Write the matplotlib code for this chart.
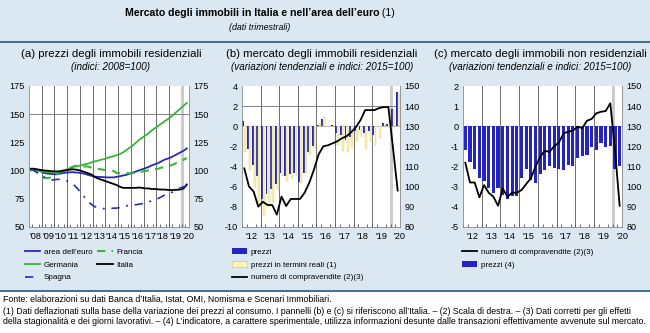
import matplotlib
matplotlib.use("Agg")
import matplotlib.pyplot as plt
from matplotlib.lines import Line2D
from matplotlib.patches import Patch, Rectangle
from matplotlib.ticker import FixedLocator

plt.rcParams['font.family'] = ['Liberation Sans Narrow', 'Liberation Sans', 'DejaVu Sans']
plt.rcParams['axes.unicode_minus'] = False

# ---------------- data ----------------
# panel (a): quarterly 2008Q1-2020Q2, indices 2008=100
year_ticks_a = list(range(2008, 2021))
year_labels_a = ["'08", "'09", "'10", "'11", "'12", "'13", "'14", "'15", "'16", "'17", "'18", "'19", "'20"]
euro = [101, 101, 100.5, 99.5, 98, 97.3, 97, 96.7, 96.5, 97, 97.5, 98, 98.2, 98.5, 98.2, 98,
        97.5, 97, 96, 95.3, 94.5, 94.3, 94.2, 94, 93.8, 93.8, 93.8, 94.3, 94.8, 95.5, 96, 97,
        98, 99, 100, 101, 102, 103, 104.5, 105.5, 106.5, 108, 109.5, 110.5, 111.5, 113, 114.5, 116,
        117.5, 119.5]
germania = [100, 100.5, 100, 99.5, 99, 98.5, 98.5, 98.8, 99, 99.5, 100, 100.5, 101.5, 102.5, 103.5, 104,
            104.5, 105.5, 106, 107, 108, 108.5, 109.5, 110, 111, 112, 112.5, 113.5, 114.5, 116, 118, 120,
            122, 124.5, 127, 129, 131, 133, 135.5, 137.5, 139.5, 141.5, 143.5, 145.5, 147.5, 150, 152.5, 155,
            157.5, 160]
francia = [101, 100.5, 99, 97, 94.5, 93, 93.5, 95, 96.5, 98, 99.5, 101, 102, 103, 104, 104,
           104, 103.5, 103.5, 102.5, 102, 101.5, 101, 100.5, 100.5, 100, 99.5, 97.8, 97.5, 97.5, 97.5, 97.5,
           97.5, 98, 98.5, 99, 99.5, 100, 100.5, 101, 101.5, 102.5, 103, 103.5, 104.5, 105.5, 107, 108,
           109.5, 111]
italia = [101.5, 101.5, 101, 100.5, 100, 99.8, 99.5, 99.2, 99, 99, 99.5, 100, 100.5, 101, 100.8, 100.3,
          99.5, 98.5, 97.5, 96.5, 94.5, 93, 92, 91, 90, 89, 88, 87, 85.5, 84.5, 84.5, 84.5,
          84.5, 84.5, 84.8, 84.5, 84, 84, 83.5, 83.5, 83.2, 83, 83, 82.7, 82.5, 82.7, 82.8, 83,
          84, 87.5]
spagna = [101, 100, 98, 96, 94, 92.5, 92, 91.5, 92, 92, 91.5, 91, 90, 88.5, 86, 83,
          79.5, 76, 72.5, 70, 68, 67, 66.5, 66, 66, 66, 66.5, 66.5, 67, 68, 68.5, 69,
          69, 69.5, 70, 70.5, 71, 72, 73, 74, 75, 76.5, 78, 79, 80, 81.5, 83, 84.5,
          85.5, 86]

# panels (b) and (c): quarterly 2012Q1-2020Q2
year_ticks_bc = list(range(2012, 2021))
year_labels_bc = ["'12", "'13", "'14", "'15", "'16", "'17", "'18", "'19", "'20"]
prezzi_b = [0.55, -2.3, -3.9, -5.0, -7.2, -6.7, -6.2, -5.8, -4.7, -5.0, -4.8, -4.7, -5.6, -4.7, -2.6, -2.0,
            0.1, 0.7, 0.0, 0.15, -0.7, -0.9, -1.4, -1.1, -0.5, -0.4, -0.7, -0.5, -0.9, 0.05, 0.35, 0.2,
            1.7, 3.4]
reali_b = [-2.6, -4.4, -6.0, -8.0, -8.8, -8.0, -7.5, -6.3, -5.0, -5.5, -5.2, -5.0, -5.7, -4.7, -2.8, -2.2,
           0.3, 0.9, 0.0, 0.0, -1.9, -2.5, -2.6, -2.1, -1.5, -1.1, -2.3, -1.5, -1.9, -1.2, 0.2, -0.1,
           1.6, 3.3]
compr_b = [109, 100, 97.5, 90, 92.4, 90.8, 90.8, 86, 95, 90.3, 93.8, 93.8, 93.8, 97, 102, 108.5,
           116, 120, 120.5, 121.5, 122.5, 124, 125, 127, 129.5, 133, 138, 138, 138, 139, 139.5, 139.5,
           119, 98]
prezzi_c = [-1.2, -1.8, -2.15, -2.6, -2.75, -3.05, -3.3, -3.05, -3.4, -3.6, -3.45, -3.45, -2.6, -2.15, -2.7, -2.85,
            -2.4, -2.2, -2.0, -2.1, -2.15, -2.2, -1.95, -2.0, -1.6, -1.5, -1.45, -1.05, -1.2, -0.85, -1.05, -1.0,
            -2.15, -2.0]
compr_c = [111.8, 102, 102, 94.6, 100.7, 96.9, 94.9, 90.4, 99, 94.9, 96.9, 96.9, 98.2, 101.2, 104, 109.9,
           114.8, 117.8, 117.2, 120.1, 121.8, 126.4, 127.3, 127.8, 129.8, 129, 132.7, 133.6, 136.4, 137.2, 137.5, 141.4,
           118, 90.4]

# ---------------- style ----------------
BG = '#dce8f1'
RULE = '#33668c'
BLUE = '#2424c4'
BLUE_LINE = '#2a2ab8'
GREEN = '#36b536'
YELLOW = '#f8f4b4'
YELLOW_EDGE = '#d4cc78'
GRID = '#6e6e6e'
TICK_FS = 6.6

W, H = 650, 333
def fx(x):
    return x / W
def fy(y):
    return 1 - y / H

fig = plt.figure(figsize=(6.5, 3.33), dpi=100)
fig.patch.set_facecolor(BG)
fig.add_artist(Rectangle((0, 0), 1, fy(291), transform=fig.transFigure,
                         facecolor='white', edgecolor='none', zorder=0))
for yy in (42, 291):
    fig.add_artist(Line2D([0, 1], [fy(yy), fy(yy)], transform=fig.transFigure,
                          color=RULE, lw=1.3))

# title
TITLE_FS = 7.6
t1 = fig.text(0, fy(13), "Mercato degli immobili in Italia e nell\u2019area dell\u2019euro",
              fontsize=TITLE_FS, fontweight='bold', va='center', ha='left')
t2 = fig.text(0, fy(13), " (1)", fontsize=TITLE_FS, va='center', ha='left')
fig.canvas.draw()
r = fig.canvas.get_renderer()
w1 = t1.get_window_extent(r).width
w2 = t2.get_window_extent(r).width
x0 = 260 - (w1 + w2) / 2
t1.set_x(fx(x0))
t2.set_x(fx(x0 + w1))
fig.text(fx(260), fy(28), "(dati trimestrali)", fontsize=6.4, style='italic', ha='center', va='center')

PLOT_TOP, PLOT_BOT = 86, 226.7

def make_axes(x_left, x_right):
    return fig.add_axes([fx(x_left), fy(PLOT_BOT), (x_right - x_left) / W, (PLOT_BOT - PLOT_TOP) / H])

def style_axes(ax, years, labels, x0, x1):
    ax.set_facecolor('white')
    ax.set_xlim(x0, x1)
    ax.set_xticks([y + 0.5 for y in years])
    ax.set_xticklabels(labels, fontsize=TICK_FS)
    ax.xaxis.set_minor_locator(FixedLocator([y + q / 4 for y in years for q in range(4)]))
    ax.tick_params(axis='x', which='major', length=0, pad=4)
    ax.tick_params(axis='x', which='minor', length=2, direction='in', color='#555555', width=0.6)
    ax.tick_params(axis='y', length=0, pad=3, labelsize=TICK_FS)
    ax.spines['top'].set_visible(False)
    for s in ('left', 'right', 'bottom'):
        ax.spines[s].set_color('#888888')
        ax.spines[s].set_linewidth(0.6)
    for y in years[1:]:
        if y == 2020:
            ax.axvline(y, color='#c9c9c9', lw=2.0, zorder=0.5)
        else:
            ax.axvline(y, color=GRID, lw=0.7, zorder=0.5)

# ---------- panel (a) ----------
ax_a = make_axes(29, 189)
xa = [2008 + (i + 0.5) / 4 for i in range(len(euro))]
style_axes(ax_a, year_ticks_a, year_labels_a, 2008, 2020.55)
ax_a.set_ylim(50, 175)
ax_a.set_yticks([50, 75, 100, 125, 150, 175])
ax_a.tick_params(axis='y', labelright=True, right=False)
ax_a.axhline(150, color=GRID, lw=0.6, zorder=0.5)
l_euro, = ax_a.plot(xa, euro, color=BLUE_LINE, lw=1.3, label="area dell\u2019euro")
l_fra, = ax_a.plot(xa, francia, color=GREEN, lw=1.5, dashes=(4, 3), label="Francia")
l_ger, = ax_a.plot(xa, germania, color=GREEN, lw=1.3, label="Germania")
l_ita, = ax_a.plot(xa, italia, color='black', lw=1.3, label="Italia")
l_spa, = ax_a.plot(xa, spagna, color=BLUE_LINE, lw=1.2, dashes=(5, 4, 1.2, 4), label="Spagna")

# ---------- panel (b) ----------
ax_b = make_axes(242, 400)
xb = [2012 + (i + 0.5) / 4 for i in range(len(prezzi_b))]
style_axes(ax_b, year_ticks_bc, year_labels_bc, 2012, 2020.47)
ax_b.set_ylim(-10, 4)
ax_b.set_yticks(list(range(-10, 5, 2)))
ax_b.axhline(2, color=GRID, lw=0.6, zorder=0.5)
ax_b.axhline(0, color='#999999', lw=0.5, zorder=0.6)
bw = 0.1
b_prezzi = ax_b.bar([x - 0.055 for x in xb], prezzi_b, width=bw, color=BLUE, zorder=2, label="prezzi")
b_reali = ax_b.bar([x + 0.055 for x in xb], reali_b, width=bw, color=YELLOW, edgecolor=YELLOW_EDGE,
                   linewidth=0.3, zorder=2, label="prezzi in termini reali (1)")
ax_b2 = ax_b.twinx()
ax_b2.set_ylim(80, 150)
ax_b2.set_yticks(list(range(80, 151, 10)))
ax_b2.tick_params(axis='y', length=0, pad=3, labelsize=TICK_FS)
for s in ax_b2.spines.values():
    s.set_visible(False)
l_b, = ax_b2.plot(xb, compr_b, color='black', lw=1.3, label="numero di compravendite (2)(3)")

# ---------- panel (c) ----------
ax_c = make_axes(463, 622)
xc = [2012 + (i + 0.5) / 4 for i in range(len(prezzi_c))]
style_axes(ax_c, year_ticks_bc, year_labels_bc, 2012, 2020.5)
ax_c.set_ylim(-5, 2)
ax_c.set_yticks(list(range(-5, 3)))
ax_c.axhline(0, color='#999999', lw=0.5, zorder=0.6)
b_c = ax_c.bar(xc, prezzi_c, width=0.17, color=BLUE, zorder=2, label="prezzi (4)")
ax_c2 = ax_c.twinx()
ax_c2.set_ylim(80, 150)
ax_c2.set_yticks(list(range(80, 151, 10)))
ax_c2.tick_params(axis='y', length=0, pad=3, labelsize=TICK_FS)
for s in ax_c2.spines.values():
    s.set_visible(False)
l_c, = ax_c2.plot(xc, compr_c, color='black', lw=1.3, label="numero di compravendite (2)(3)")

# ---------- panel titles ----------
for xc_, t, st in ((111, "(a) prezzi degli immobili residenziali", "(indici: 2008=100)"),
                   (322, "(b) mercato degli immobili residenziali", "(variazioni tendenziali e indici: 2015=100)"),
                   (540, "(c) mercato degli immobili non residenziali", "(variazioni tendenziali e indici: 2015=100)")):
    fig.text(fx(xc_), fy(54), t, fontsize=8.2, ha='center', va='center')
    fig.text(fx(xc_), fy(67), st, fontsize=7.1, style='italic', ha='center', va='center')

# ---------- legends ----------
LEG_FS = 5.8
common = dict(frameon=False, fontsize=LEG_FS, handlelength=1.9, handletextpad=0.45,
              labelspacing=0.65, borderpad=0, borderaxespad=0, loc='upper left',
              bbox_transform=fig.transFigure)
fig.legend([l_euro, l_ger, l_spa, l_fra, l_ita],
           ["area dell\u2019euro", "Germania", "Spagna", "Francia", "Italia"],
           ncol=2, columnspacing=0.6, bbox_to_anchor=(fx(25), fy(248)), **common)
fig.legend([Patch(facecolor=BLUE), Patch(facecolor=YELLOW, edgecolor=YELLOW_EDGE, linewidth=0.5),
            Line2D([], [], color='black', lw=1.3)],
           ["prezzi", "prezzi in termini reali (1)", "numero di compravendite (2)(3)"],
           bbox_to_anchor=(fx(232), fy(248)), **common)
fig.legend([Line2D([], [], color='black', lw=1.3), Patch(facecolor=BLUE)],
           ["numero di compravendite (2)(3)", "prezzi (4)"],
           bbox_to_anchor=(fx(462), fy(248)), **common)

# ---------- footnotes ----------
FN_FS = 6.35
notes = ["Fonte: elaborazioni su dati Banca d\u2019Italia, Istat, OMI, Nomisma e Scenari Immobiliari.",
         "(1) Dati deflazionati sulla base della variazione dei prezzi al consumo. I pannelli (b) e (c) si riferiscono all\u2019Italia. \u2013 (2) Scala di destra. \u2013 (3) Dati corretti per gli effetti",
         "della stagionalit\u00e0 e dei giorni lavorativi. \u2013 (4) L\u2019indicatore, a carattere sperimentale, utilizza informazioni desunte dalle transazioni effettivamente avvenute sul mercato."]
for yy, t in zip((299, 311, 322), notes):
    fig.text(fx(3), fy(yy), t, fontsize=FN_FS, ha='left', va='center')

fig.savefig("out.png", dpi=100, facecolor=fig.get_facecolor())
